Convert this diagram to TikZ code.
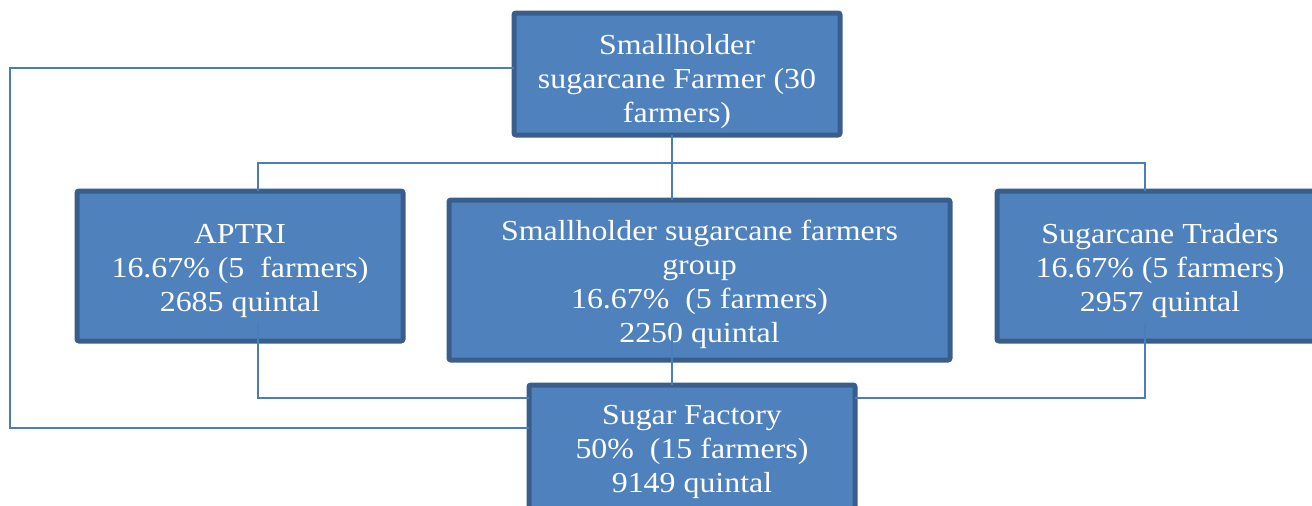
\documentclass[tikz,border=0pt]{standalone}
\usepackage{fontspec}
\setmainfont[FakeStretch=1.1]{Liberation Serif}
\definecolor{boxfill}{HTML}{4F81BD}
\definecolor{boxline}{HTML}{3A5E8C}
\definecolor{conn}{HTML}{4A7EBB}
\newcommand\dropby[1]{\rule{0pt}{#1}}
\tikzset{
  box/.style={draw=boxline, fill=boxfill, line width=5pt, rounded corners=2pt,
    text=white, align=center, inner sep=0pt, outer sep=0pt,
    font=\fontsize{29}{34}\selectfont},
  link/.style={draw=conn, line width=2pt},
}
\begin{document}
\begin{tikzpicture}[x=1pt,y=-1pt]
\useasboundingbox (0,0) rectangle (1312,506);
\clip (0,0) rectangle (1312,506);
\node[box, minimum width=326pt, minimum height=122pt] (top) at (677,74)
  {\dropby{36pt}Smallholder\\sugarcane Farmer (30\\farmers)};
\node[box, minimum width=326pt, minimum height=150pt] (aptri) at (240,266)
  {\dropby{30pt}APTRI\\16.67\% (5\ \ farmers)\\2685 quintal};
\node[box, minimum width=501pt, minimum height=160pt] (mid) at (699.5,280)
  {\dropby{30pt}Smallholder sugarcane farmers\\group\\16.67\%\ \ (5 farmers)\\2250 quintal};
\node[box, minimum width=326pt, minimum height=150pt] (trad) at (1160,266)
  {\dropby{30pt}Sugarcane Traders\\16.67\% (5 farmers)\\2957 quintal};
\node[box, minimum width=326pt, minimum height=130pt] (fac) at (692,450)
  {\dropby{24pt}Sugar Factory\\50\%\ \ (15 farmers)\\9149 quintal};
\coordinate (busL) at (258,163);
\coordinate (busR) at (1145,163);
\coordinate (loopT) at (10,68);
\coordinate (loopB) at (10,428);
\coordinate (lowL) at (258,398);
\coordinate (lowR) at (1145,398);
\draw[link] ([xshift=-5pt]top.south) -- ([xshift=-27.5pt]mid.north);
\draw[link] ([xshift=18pt]aptri.north) -- (busL) -- (busR) -- ([xshift=-15pt]trad.north);
\draw[link] ([yshift=6pt]top.west) -- (loopT) -- (loopB) -- ([yshift=22pt]fac.west);
\draw[link] ([xshift=18pt,yshift=18pt]aptri.south) -- (lowL) -- ([yshift=52pt]fac.west);
\draw[link] ([xshift=-15pt,yshift=18pt]trad.south) -- (lowR) -- ([yshift=52pt]fac.east);
\draw[link] ([xshift=-27.5pt,yshift=27pt]mid.south) -- ([xshift=-20pt]fac.north);
\end{tikzpicture}
\end{document}
